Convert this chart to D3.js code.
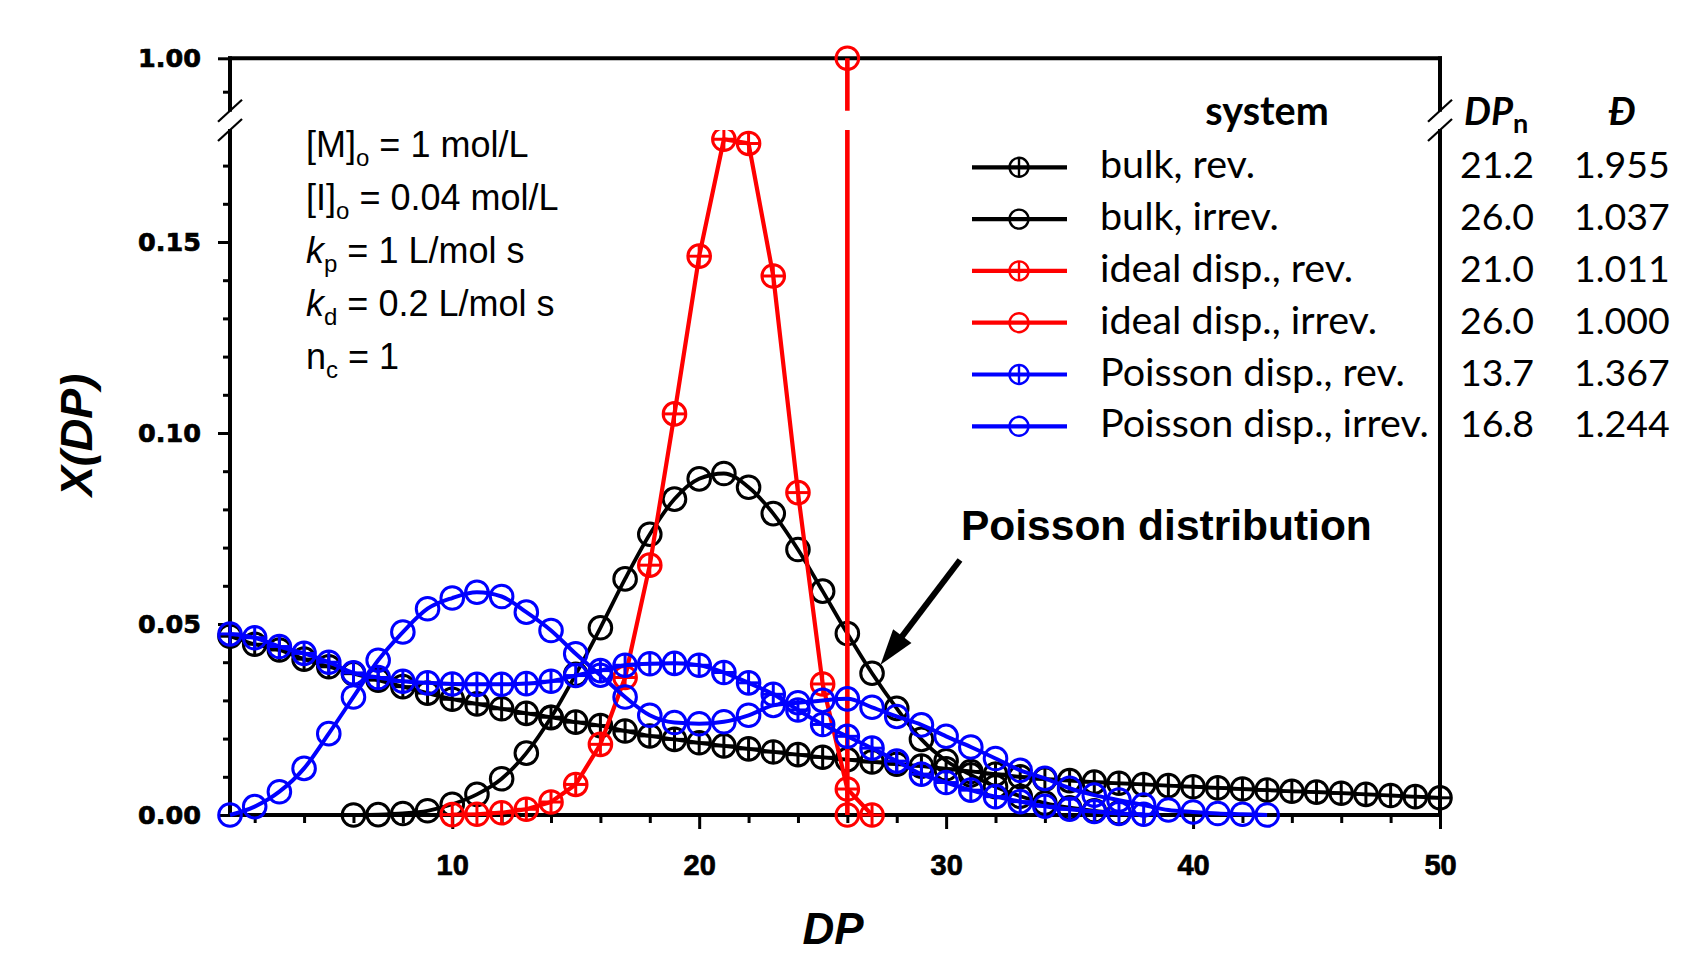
<!DOCTYPE html>
<html>
<head>
<meta charset="utf-8">
<script src="https://cdn.jsdelivr.net/npm/d3@7"></script>
<style>
body { margin: 0; background: #fff; }
svg { display: block; }
</style>
</head>
<body>
<div id="chart"></div>
<script>
const W = 1684, H = 955;

// X(DP), one array per system
const bulkRevStart = 1;
const bulkRev = [0.0468, 0.0447, 0.0432, 0.0408, 0.0388, 0.0370, 0.0353, 0.0336, 0.0319, 0.0303,
    0.0291, 0.0278, 0.0266, 0.0256, 0.0243, 0.0234, 0.0220, 0.0207, 0.0198, 0.0189,
    0.0181, 0.0173, 0.0165, 0.0158, 0.0151, 0.0145, 0.0139, 0.0133, 0.0128, 0.0121,
    0.0114, 0.0107, 0.0100, 0.0094, 0.0090, 0.0086, 0.0083, 0.0080, 0.0077, 0.0074,
    0.0071, 0.0068, 0.0065, 0.0062, 0.0060, 0.0057, 0.0054, 0.0051, 0.0048, 0.0045];

const bulkIrrevStart = 6;
const bulkIrrev = [0.0000, 0.0001, 0.0004, 0.0011, 0.0028, 0.0054, 0.0095, 0.0162, 0.0255, 0.0368,
    0.0490, 0.0618, 0.0735, 0.0827, 0.0880, 0.0894, 0.0858, 0.0789, 0.0695, 0.0586,
    0.0475, 0.0371, 0.0279, 0.0198, 0.0142, 0.0105, 0.0074, 0.0049, 0.0031, 0.0019,
    0.0011, 0.0006];

const idealRevStart = 10;
const idealRev = [0.0001, 0.0002, 0.0006, 0.0015, 0.0034, 0.0080, 0.0185, 0.0360, 0.0654, 0.1050,
    0.1463, 0.1769, 0.1758, 0.1411, 0.0844, 0.0343, 0.0068, 0.0000];

const idealIrrevDP = [26, 26];
const idealIrrev = [0.0, 1.0];

const poissonRevStart = 1;
const poissonRev = [0.0474, 0.0464, 0.0441, 0.0423, 0.0400, 0.0372, 0.0360, 0.0350, 0.0346, 0.0343,
    0.0342, 0.0342, 0.0344, 0.0350, 0.0365, 0.0378, 0.0392, 0.0396, 0.0397, 0.0392,
    0.0373, 0.0346, 0.0316, 0.0275, 0.0237, 0.0206, 0.0175, 0.0141, 0.0107, 0.0085,
    0.0065, 0.0048, 0.0035, 0.0023, 0.0015, 0.0009, 0.0004, 0.0002];

const poissonIrrevStart = 1;
const poissonIrrev = [0.0000, 0.0022, 0.0061, 0.0122, 0.0213, 0.0309, 0.0405, 0.0479, 0.0540, 0.0568,
    0.0583, 0.0572, 0.0531, 0.0483, 0.0422, 0.0366, 0.0309, 0.0261, 0.0242, 0.0239,
    0.0244, 0.0261, 0.0287, 0.0294, 0.0300, 0.0304, 0.0282, 0.0258, 0.0236, 0.0206,
    0.0178, 0.0148, 0.0117, 0.0096, 0.0070, 0.0052, 0.0039, 0.0026, 0.0013, 0.0008,
    0.0004, 0.0002, 0.0000];

// legend table
const legendNames = ["bulk, rev.", "bulk, irrev.", "ideal disp., rev.", "ideal disp., irrev.", "Poisson disp., rev.", "Poisson disp., irrev."];
const legendDPn = ["21.2", "26.0", "21.0", "26.0", "13.7", "16.8"];
const legendDisp = ["1.955", "1.037", "1.011", "1.000", "1.367", "1.244"];

// ticks
const xMajorTicks = [10, 20, 30, 40, 50];
const xMinorTicks = [2, 4, 6, 8, 12, 14, 16, 18, 22, 24, 26, 28, 32, 34, 36, 38, 42, 44, 46, 48];
const yMajorTicks = [0, 0.05, 0.10, 0.15];
const yMinorTicks = [0.01, 0.02, 0.03, 0.04, 0.06, 0.07, 0.08, 0.09, 0.11, 0.12, 0.13, 0.14, 0.16, 0.17];
const yUpMajorTicks = [1.0];
const yUpMinorTicks = [0.99];

const ARIAL = "'Liberation Sans', Arial, sans-serif";
const CALI = "Lato, 'Open Sans', sans-serif";

const withDP = (start, vals) => vals.map((v, i) => ({dp: start + i, v: v}));

const series = [
    {color: "#000000", cross: true,  pts: withDP(bulkRevStart, bulkRev), curve: d3.curveMonotoneX, lw: 3.8},
    {color: "#000000", cross: false, pts: withDP(bulkIrrevStart, bulkIrrev), curve: d3.curveMonotoneX, lw: 3.8},
    {color: "#ff0000", cross: true,  pts: withDP(idealRevStart, idealRev), curve: d3.curveLinear, lw: 4.2},
    {color: "#ff0000", cross: false, pts: idealIrrev.map((v, i) => ({dp: idealIrrevDP[i], v: v})), curve: d3.curveLinear, lw: 4.6},
    {color: "#0000ff", cross: true,  pts: withDP(poissonRevStart, poissonRev), curve: d3.curveMonotoneX, lw: 4},
    {color: "#0000ff", cross: false, pts: withDP(poissonIrrevStart, poissonIrrev), curve: d3.curveMonotoneX, lw: 4}
];

// scales (broken y axis: lower 0..~0.18, upper around 1.00)
const x = d3.scaleLinear().domain([1, 50]).range([230, 1440]);
const yLow = d3.scaleLinear().domain([0, 0.1]).range([815, 433]);
const yUp = d3.scaleLinear().domain([0.99, 1.0]).range([91.7, 58.3]);
const gapTop = 110.7, gapBottom = 130;
const yPos = v => v > 0.5 ? yUp(v) : yLow(v);
const plotLeft = x.range()[0], plotRight = x.range()[1];
const plotTop = yUp(1.0), plotBottom = yLow(0);

const svg = d3.select("#chart").append("svg")
    .attr("width", W)
    .attr("height", H)
    .style("background", "#fff");

// clip that cuts the data at the axis break
const defs = svg.append("defs");
const clip = defs.append("clipPath").attr("id", "breakclip");
clip.append("rect").attr("x", 0).attr("y", 0).attr("width", W).attr("height", gapTop);
clip.append("rect").attr("x", 0).attr("y", gapBottom).attr("width", W).attr("height", H - gapBottom);

// ---- axes ----
function styleAxis(g, fontFamily, fontSize) {
    g.select(".domain").remove();
    g.selectAll(".tick line").attr("stroke", "#000").attr("stroke-width", 3);
    g.selectAll(".tick text")
        .attr("fill", "#000")
        .attr("stroke", "#000")
        .attr("stroke-width", 0.7)
        .style("font-family", fontFamily)
        .style("font-size", fontSize + "px")
        .style("font-weight", "bold");
}

const xAxisMajor = svg.append("g")
    .attr("transform", `translate(0,${plotBottom})`)
    .call(d3.axisBottom(x).tickValues(xMajorTicks).tickSize(14).tickFormat(d3.format("d")));
styleAxis(xAxisMajor, ARIAL, 29);
xAxisMajor.selectAll(".tick text").attr("y", 60).attr("dy", 0);

const xAxisMinor = svg.append("g")
    .attr("transform", `translate(0,${plotBottom})`)
    .call(d3.axisBottom(x).tickValues(xMinorTicks).tickSize(8).tickFormat(""));
styleAxis(xAxisMinor, ARIAL, 29);

const yAxisMajor = svg.append("g")
    .attr("transform", `translate(${plotLeft},0)`)
    .call(d3.axisLeft(yLow).tickValues(yMajorTicks).tickSize(12).tickPadding(17).tickFormat(d3.format(".2f")));
styleAxis(yAxisMajor, "'DejaVu Sans', sans-serif", 25.5);

const yAxisMinor = svg.append("g")
    .attr("transform", `translate(${plotLeft},0)`)
    .call(d3.axisLeft(yLow).tickValues(yMinorTicks).tickSize(7).tickFormat(""));
styleAxis(yAxisMinor, ARIAL, 25);

const yUpMajor = svg.append("g")
    .attr("transform", `translate(${plotLeft},0)`)
    .call(d3.axisLeft(yUp).tickValues(yUpMajorTicks).tickSize(12).tickPadding(17).tickFormat(d3.format(".2f")));
styleAxis(yUpMajor, "'DejaVu Sans', sans-serif", 25.5);

const yUpMinor = svg.append("g")
    .attr("transform", `translate(${plotLeft},0)`)
    .call(d3.axisLeft(yUp).tickValues(yUpMinorTicks).tickSize(7).tickFormat(""));
styleAxis(yUpMinor, ARIAL, 25);

// frame with the break
const frame = svg.append("g")
    .attr("stroke", "#000")
    .attr("stroke-width", 4)
    .attr("stroke-linecap", "square");
[plotLeft, plotRight].forEach(xx => {
    frame.append("line").attr("x1", xx).attr("x2", xx).attr("y1", plotTop).attr("y2", gapTop - 1);
    frame.append("line").attr("x1", xx).attr("x2", xx).attr("y1", gapBottom + 1).attr("y2", plotBottom);
});
frame.append("line").attr("x1", plotLeft).attr("x2", plotRight).attr("y1", plotTop).attr("y2", plotTop);
frame.append("line").attr("x1", plotLeft).attr("x2", plotRight).attr("y1", plotBottom).attr("y2", plotBottom);

const slashes = svg.append("g").attr("stroke", "#000").attr("stroke-width", 2.2);
[plotLeft, plotRight].forEach(xx => {
    [gapTop, gapBottom].forEach(yy => {
        slashes.append("line")
            .attr("x1", xx - 12).attr("y1", yy + 11)
            .attr("x2", xx + 12).attr("y2", yy - 11);
    });
});

// axis titles
svg.append("text")
    .attr("transform", `translate(${(plotLeft + plotRight) / 2 - 2},944)`)
    .attr("text-anchor", "middle")
    .style("font-family", ARIAL)
    .style("font-size", "44px")
    .style("font-weight", "bold")
    .style("font-style", "italic")
    .text("DP");

svg.append("text")
    .attr("transform", "translate(92,435) rotate(-90)")
    .attr("text-anchor", "middle")
    .style("font-family", ARIAL)
    .style("font-size", "45px")
    .style("font-weight", "bold")
    .style("font-style", "italic")
    .text("X(DP)");

// ---- data ----
function drawMarker(g, color, cross, r, sw) {
    g.append("circle")
        .attr("r", r)
        .attr("fill", "none")
        .attr("stroke", color)
        .attr("stroke-width", sw);
    if (cross) {
        g.append("line").attr("x1", -r).attr("x2", r).attr("y1", 0).attr("y2", 0)
            .attr("stroke", color).attr("stroke-width", sw);
        g.append("line").attr("x1", 0).attr("x2", 0).attr("y1", -r).attr("y2", r)
            .attr("stroke", color).attr("stroke-width", sw);
    }
}

const plot = svg.append("g").attr("clip-path", "url(#breakclip)");

series.forEach(s => {
    const line = d3.line()
        .x(d => x(d.dp))
        .y(d => yPos(d.v))
        .curve(s.curve);
    plot.append("path")
        .datum(s.pts)
        .attr("d", line)
        .attr("fill", "none")
        .attr("stroke", s.color)
        .attr("stroke-width", s.lw)
        .attr("stroke-linejoin", "round");
    plot.selectAll(null)
        .data(s.pts)
        .enter().append("g")
        .attr("transform", d => `translate(${x(d.dp)},${yPos(d.v)})`)
        .each(function() { drawMarker(d3.select(this), s.color, s.cross, 11.3, 3); });
});

// ---- conditions text ----
const condLines = [
    [{t: "[M]"}, {t: "o", sub: true}, {t: " = 1 mol/L"}],
    [{t: "[I]"}, {t: "o", sub: true}, {t: " = 0.04 mol/L"}],
    [{t: "k", it: true}, {t: "p", sub: true}, {t: " = 1 L/mol s"}],
    [{t: "k", it: true}, {t: "d", sub: true}, {t: " = 0.2 L/mol s"}],
    [{t: "n"}, {t: "c", sub: true}, {t: " = 1"}]
];
condLines.forEach((parts, i) => {
    const txt = svg.append("text")
        .attr("x", 306)
        .attr("y", 157 + i * 53)
        .style("font-family", ARIAL)
        .style("font-size", "36px")
        .attr("fill", "#000");
    let shifted = false;
    parts.forEach(p => {
        const ts = txt.append("tspan").text(p.t);
        if (p.it) ts.style("font-style", "italic");
        if (p.sub) {
            ts.attr("dy", 9).style("font-size", "24px");
            shifted = true;
        } else if (shifted) {
            ts.attr("dy", -9);
            shifted = false;
        }
    });
});

// ---- legend ----
const legX1 = 972, legX2 = 1067, legTextX = 1100, legRow0 = 167.3, legStep = 51.8;

svg.append("text")
    .attr("x", 1267).attr("y", 125)
    .attr("text-anchor", "middle")
    .style("font-family", CALI)
    .style("font-size", "39.5px")
    .style("font-weight", "bold")
    .text("system");

const dpnHead = svg.append("text")
    .attr("x", 1464).attr("y", 125)
    .style("font-family", CALI)
    .style("font-size", "38px")
    .style("font-weight", "bold");
dpnHead.append("tspan").style("font-style", "italic").text("DP");
dpnHead.append("tspan").attr("dy", 8).style("font-size", "27px").text("n");

svg.append("text")
    .attr("x", 1622).attr("y", 125)
    .attr("text-anchor", "middle")
    .style("font-family", CALI)
    .style("font-size", "38px")
    .style("font-weight", "bold")
    .style("font-style", "italic")
    .text("Đ");

series.forEach((s, i) => {
    const cy = legRow0 + i * legStep;
    const row = svg.append("g");
    row.append("line")
        .attr("x1", legX1).attr("x2", legX2)
        .attr("y1", cy).attr("y2", cy)
        .attr("stroke", s.color)
        .attr("stroke-width", 4.2);
    const m = row.append("g").attr("transform", `translate(${(legX1 + legX2) / 2 - 0.5},${cy})`);
    drawMarker(m, s.color, s.cross, 9.5, 2.4);
    row.append("text")
        .attr("x", legTextX).attr("y", cy + 11)
        .style("font-family", CALI)
        .style("font-size", "39.5px")
        .text(legendNames[i]);
    row.append("text")
        .attr("x", 1460).attr("y", cy + 11)
        .style("font-family", CALI)
        .style("font-size", "37.5px")
        .text(legendDPn[i]);
    row.append("text")
        .attr("x", 1574).attr("y", cy + 11)
        .style("font-family", CALI)
        .style("font-size", "37.5px")
        .text(legendDisp[i]);
});

// ---- Poisson distribution arrow ----
svg.append("text")
    .attr("x", 961).attr("y", 540)
    .style("font-family", ARIAL)
    .style("font-size", "42.5px")
    .style("font-weight", "bold")
    .text("Poisson distribution");

// arrow tip sits on the bulk, irrev. marker at DP = 27
const target = bulkIrrev[27 - bulkIrrevStart];
const tipX = x(27) + 8.5, tipY = yLow(target) - 8.5;
const tailX = 960, tailY = 560;
const ang = Math.atan2(tipY - tailY, tipX - tailX);
const headLen = 36, headHalf = 11.5;
const baseX = tipX - headLen * Math.cos(ang), baseY = tipY - headLen * Math.sin(ang);
svg.append("line")
    .attr("x1", tailX).attr("y1", tailY)
    .attr("x2", baseX + 2 * Math.cos(ang)).attr("y2", baseY + 2 * Math.sin(ang))
    .attr("stroke", "#000")
    .attr("stroke-width", 6);
const px = -Math.sin(ang), py = Math.cos(ang);
svg.append("path")
    .attr("d", `M${tipX},${tipY}L${baseX + headHalf * px},${baseY + headHalf * py}L${baseX - headHalf * px},${baseY - headHalf * py}Z`)
    .attr("fill", "#000");
</script>
</body>
</html>
